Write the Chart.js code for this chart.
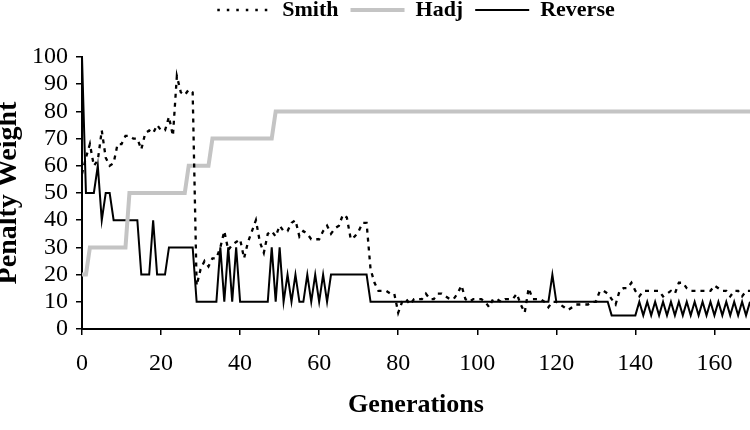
<!DOCTYPE html>
<html>
<head>
<meta charset="utf-8">
<script src="https://cdn.jsdelivr.net/npm/chart.js@4/dist/chart.umd.min.js"></script>
<style>
  html, body { margin: 0; padding: 0; width: 750px; height: 430px; overflow: hidden; background: #fff; }
  #wrap { position: absolute; left: -12px; top: -13px; width: 770px; height: 460px; }
</style>
</head>
<body>
<div id="wrap"><canvas id="c" width="770" height="460"></canvas></div>
<script>
// ---- data ----
const seriesNames = ['Smith', 'Hadj', 'Reverse'];
const xTickLabels = [0, 20, 40, 60, 80, 100, 120, 140, 160];
const yTickLabels = [0, 10, 20, 30, 40, 50, 60, 70, 80, 90, 100];

const smith = [
  57, 63, 68, 60, 62, 73, 63, 60, 61, 68,
  68, 71, 71, 70, 70, 66, 72, 73, 72, 75,
  73, 73, 78, 71, 93, 87, 86, 88, 87, 16,
  22, 25, 23, 26, 26, 30, 36, 29, 31, 32,
  33, 26, 32, 36, 40, 32, 28, 35, 36, 34,
  38, 36, 36, 39, 40, 34, 36, 35, 33, 33,
  33, 36, 38, 35, 37, 38, 42, 41, 33, 34,
  36, 39, 39, 22, 17, 14, 14, 14, 13, 13,
  6, 10, 11, 9, 11, 11, 11, 13, 11, 11,
  13, 13, 12, 11, 11, 13, 16, 11, 10, 11,
  11, 11, 10, 8, 11, 11, 10, 11, 11, 11,
  13, 9, 6, 15, 11, 11, 11, 10, 8, 10,
  10, 9, 8, 7, 8, 9, 9, 9, 9, 10,
  10, 14, 14, 13, 11, 9, 14, 15, 15, 17,
  14, 12, 14, 14, 14, 14, 14, 12, 13, 14,
  13, 17, 17, 15, 14, 14, 14, 14, 14, 14,
  16, 15, 14, 14, 12, 14, 14, 12, 14, 14
];

const hadj = [
  20, 20, 30, 30, 30, 30, 30, 30, 30, 30,
  30, 30, 50, 50, 50, 50, 50, 50, 50, 50,
  50, 50, 50, 50, 50, 50, 50, 60, 60, 60,
  60, 60, 60, 70, 70, 70, 70, 70, 70, 70,
  70, 70, 70, 70, 70, 70, 70, 70, 70, 80,
  80, 80, 80, 80, 80, 80, 80, 80, 80, 80,
  80, 80, 80, 80, 80, 80, 80, 80, 80, 80,
  80, 80, 80, 80, 80, 80, 80, 80, 80, 80,
  80, 80, 80, 80, 80, 80, 80, 80, 80, 80,
  80, 80, 80, 80, 80, 80, 80, 80, 80, 80,
  80, 80, 80, 80, 80, 80, 80, 80, 80, 80,
  80, 80, 80, 80, 80, 80, 80, 80, 80, 80,
  80, 80, 80, 80, 80, 80, 80, 80, 80, 80,
  80, 80, 80, 80, 80, 80, 80, 80, 80, 80,
  80, 80, 80, 80, 80, 80, 80, 80, 80, 80,
  80, 80, 80, 80, 80, 80, 80, 80, 80, 80,
  80, 80, 80, 80, 80, 80, 80, 80, 80, 80
];

const reverse = [
  100, 50, 50, 50, 60, 40, 50, 50, 40, 40,
  40, 40, 40, 40, 40, 20, 20, 20, 40, 20,
  20, 20, 30, 30, 30, 30, 30, 30, 30, 10,
  10, 10, 10, 10, 10, 30, 10, 30, 10, 30,
  10, 10, 10, 10, 10, 10, 10, 10, 30, 10,
  30, 10, 20, 10, 20, 10, 10, 20, 10, 20,
  10, 20, 10, 20, 20, 20, 20, 20, 20, 20,
  20, 20, 20, 10, 10, 10, 10, 10, 10, 10,
  10, 10, 10, 10, 10, 10, 10, 10, 10, 10,
  10, 10, 10, 10, 10, 10, 10, 10, 10, 10,
  10, 10, 10, 10, 10, 10, 10, 10, 10, 10,
  10, 10, 10, 10, 10, 10, 10, 10, 10, 20,
  10, 10, 10, 10, 10, 10, 10, 10, 10, 10,
  10, 10, 10, 10, 5, 5, 5, 5, 5, 5,
  5, 10, 5, 10, 5, 10, 5, 10, 5, 10,
  5, 10, 5, 10, 5, 10, 5, 10, 5, 10,
  5, 10, 5, 10, 5, 10, 5, 10, 5, 10
];

// generation index of each sample (x position)
const generations = smith.map((_, i) => i);
const toXY = arr => arr.map((v, i) => ({ x: generations[i], y: v }));

const FONT = "'Liberation Serif', 'Times New Roman', serif";

new Chart(document.getElementById('c'), {
  type: 'line',
  data: {
    datasets: [
      { label: seriesNames[0], data: toXY(smith), xAxisID: 'x', yAxisID: 'y', borderColor: '#000', borderWidth: 2.3, borderDash: [4, 5], pointRadius: 0, tension: 0 },
      { label: seriesNames[1], data: toXY(hadj), xAxisID: 'x', yAxisID: 'y', borderColor: '#c4c4c4', borderWidth: 4, pointRadius: 0, tension: 0 },
      { label: seriesNames[2], data: toXY(reverse), xAxisID: 'x', yAxisID: 'y', borderColor: '#000', borderWidth: 2, pointRadius: 0, tension: 0 }
    ]
  },
  options: {
    responsive: false,
    animation: false,
    devicePixelRatio: 1,
    layout: { padding: { left: 0, right: 8, top: 0, bottom: 0 } },
    plugins: {
      legend: {
        display: true,
        position: 'top',
        fullSize: false,
        labels: {
          usePointStyle: true,
          pointStyle: 'line',
          pointStyleWidth: 54,
          padding: 12,
          color: '#000',
          font: { family: FONT, size: 22, weight: 'bold' },
          generateLabels: chart => {
            const items = Chart.defaults.plugins.legend.labels.generateLabels(chart);
            items.forEach(it => {
              const ds = chart.data.datasets[it.datasetIndex];
              it.strokeStyle = ds.borderColor;
              it.lineWidth = ds.borderWidth;
              it.lineDash = ds.borderDash ? [2.5, 7] : [];
              it.pointStyle = 'line';
            });
            return items;
          }
        }
      },
      tooltip: { enabled: false }
    },
    scales: {
      x: {
        type: 'linear',
        position: 'bottom',
        min: 0, max: 169,
        afterBuildTicks: s => { s.ticks = xTickLabels.map(v => ({ value: v })); },
        grid: { drawOnChartArea: false, drawTicks: true, tickLength: 6, color: '#000', lineWidth: 1.5 },
        border: { display: true, color: '#000', width: 2 },
        ticks: { color: '#000', padding: 14, maxRotation: 0, autoSkip: false, font: { family: FONT, size: 24 } },
        title: { display: true, text: 'Generations', color: '#000', padding: { top: 4, bottom: 26 }, font: { family: FONT, size: 26, weight: 'bold' } },
        afterFit: s => { s.height = 118; }
      },
      y: {
        type: 'linear',
        position: 'left',
        min: 0, max: 100,
        afterBuildTicks: s => { s.ticks = yTickLabels.map(v => ({ value: v })); },
        grid: { drawOnChartArea: false, drawTicks: true, tickLength: 6, color: '#000', lineWidth: 1.5 },
        border: { display: true, color: '#000', width: 2 },
        ticks: { color: '#000', padding: 8, autoSkip: false, font: { family: FONT, size: 24 } },
        title: { display: true, text: 'Penalty Weight', color: '#000', padding: { top: 4, bottom: 4 }, font: { family: FONT, size: 28, weight: 'bold' } },
        afterFit: s => { s.width = 94; }
      },
      pad: {
        type: 'linear', position: 'top', display: true, min: 0, max: 1,
        grid: { display: false }, ticks: { display: false }, border: { display: false },
        afterFit: s => { s.height = 26; }
      }
    }
  }
});
</script>
</body>
</html>
